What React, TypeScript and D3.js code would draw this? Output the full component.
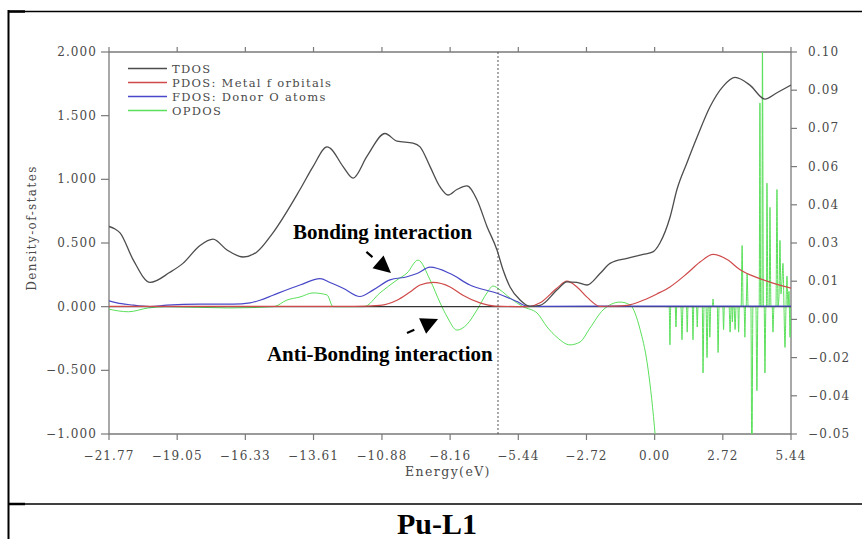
import React from "react";
import * as d3 from "d3";

// ---------- DATA ----------
const xTicks = [-21.77, -19.05, -16.33, -13.61, -10.88, -8.16, -5.44, -2.72, 0.0, 2.72, 5.44];
const xTickLabels = ["−21.77", "−19.05", "−16.33", "−13.61", "−10.88", "−8.16", "−5.44", "−2.72", "0.00", "2.72", "5.44"];
const yLeftTicks = [2, 1.5, 1, 0.5, 0, -0.5, -1];
const yLeftLabels = ["2.000", "1.500", "1.000", "0.500", "0.000", "−0.500", "−1.000"];
const yRightTicks = [0.1, 0.085, 0.07, 0.055, 0.04, 0.025, 0.01, -0.005, -0.02, -0.035, -0.05];
const yRightLabels = ["0.10", "0.09", "0.07", "0.06", "0.04", "0.03", "0.01", "0.00", "−0.02", "−0.04", "−0.05"];
const fermiLevel = -6.25;

const legendNames = ["TDOS", "PDOS: Metal f orbitals", "FDOS: Donor O atoms", "OPDOS"];

const tdos: [number, number][] = [
  [-21.77, 0.63], [-21.53, 0.61], [-21.33, 0.58], [-20.81, 0.37], [-20.13, 0.19], [-19.34, 0.27],
  [-18.82, 0.34], [-18.14, 0.48], [-17.62, 0.53], [-17.06, 0.445], [-16.42, 0.39], [-15.87, 0.43],
  [-15.23, 0.58], [-14.15, 0.92], [-13.63, 1.1], [-13.07, 1.255], [-12.95, 1.245], [-12.43, 1.1],
  [-12.03, 1.01], [-11.48, 1.18], [-10.76, 1.36], [-10.28, 1.3], [-9.64, 1.285], [-9.36, 1.255],
  [-8.96, 1.1], [-8.56, 0.94], [-8.24, 0.877], [-7.89, 0.92], [-7.49, 0.948], [-7.09, 0.84],
  [-6.69, 0.63], [-6.29, 0.445], [-6.05, 0.29], [-5.77, 0.155], [-5.37, 0.053], [-4.97, 0.003],
  [-4.57, 0.01], [-3.9, 0.13], [-3.5, 0.195], [-3.1, 0.19], [-2.7, 0.17], [-2.18, 0.26],
  [-1.78, 0.34], [-1.1, 0.38], [-0.46, 0.41], [-0.07, 0.43], [0.21, 0.5], [0.61, 0.7],
  [0.89, 0.92], [1.29, 1.13], [1.69, 1.33], [2.21, 1.57], [2.73, 1.73], [3.21, 1.8],
  [3.8, 1.74], [4.4, 1.63], [4.88, 1.68], [5.44, 1.74],
];

const pdosMetal: [number, number][] = [
  [-21.77, 0.002], [-18, 0.002], [-14, 0.002], [-12, 0.003], [-10.96, 0.01], [-10.28, 0.05],
  [-9.76, 0.115], [-9.36, 0.17], [-8.84, 0.19], [-8.16, 0.155], [-7.65, 0.09], [-6.97, 0.03],
  [-6.37, 0.005], [-5.2, 0.0], [-4.97, 0.002], [-4.57, 0.03], [-3.9, 0.145], [-3.5, 0.2],
  [-3.1, 0.155], [-2.7, 0.075], [-2.18, 0.003], [-1.6, 0.004], [-1.1, 0.01], [-0.46, 0.05],
  [0.09, 0.1], [0.61, 0.155], [1.29, 0.26], [1.81, 0.35], [2.33, 0.41], [2.89, 0.37],
  [3.41, 0.29], [4.2, 0.22], [4.72, 0.185], [5.44, 0.145],
];

const pdosDonor: [number, number][] = [
  [-21.77, 0.045], [-21.45, 0.03], [-20.93, 0.015], [-20.13, 0.0], [-19.46, 0.012], [-18.14, 0.02],
  [-16.82, 0.02], [-16.14, 0.03], [-15.75, 0.05], [-15.23, 0.09], [-14.15, 0.17], [-13.35, 0.22],
  [-12.95, 0.19], [-12.43, 0.145], [-11.76, 0.08], [-11.24, 0.13], [-10.56, 0.21], [-9.88, 0.235],
  [-9.48, 0.26], [-8.96, 0.31], [-8.16, 0.26], [-7.37, 0.17], [-6.29, 0.105], [-5.49, 0.04],
  [-5.09, 0.005], [-4.5, 0.003], [0, 0.004], [5.44, 0.004],
];

const opdos: [number, number | null][] = [
  [-21.77, -0.001], [-21.0, -0.002], [-20.2, -0.0005], [-19.5, 0.0], [-17, -0.0005], [-15.2, 0.0],
  [-14.67, 0.0026], [-14.15, 0.0038], [-13.63, 0.0054], [-13.07, 0.0046], [-12.83, 0.0], [-11.6, 0.0],
  [-10.96, 0.0054], [-10.28, 0.0105], [-9.88, 0.0132], [-9.44, 0.0183], [-8.96, 0.0105], [-8.56, 0.0015],
  [-8.28, -0.004], [-7.89, -0.0092], [-7.49, -0.007], [-7.09, -0.0013], [-6.69, 0.0054], [-6.45, 0.0081],
  [-6.17, 0.0066], [-5.77, 0.0034], [-5.25, 0.0], [-4.69, -0.0025], [-4.29, -0.008], [-3.9, -0.012],
  [-3.38, -0.015], [-2.98, -0.0139], [-2.58, -0.0084], [-2.06, -0.0013], [-1.38, 0.0018], [-0.98, 0.0007],
  [-0.58, -0.009], [-0.3, -0.022], [-0.01, -0.047], [0.21, -0.075], [0.3, null],
  [0.45, 0], [0.58, 0], [0.61, -0.015], [0.64, 0], [0.82, 0], [0.85, -0.008], [0.88, 0],
  [1.05, 0], [1.09, -0.013], [1.13, 0], [1.27, 0], [1.3, -0.01], [1.33, 0],
  [1.5, 0], [1.53, -0.013], [1.56, 0], [1.67, 0], [1.7, -0.008], [1.73, 0],
  [1.9, 0], [1.93, -0.026], [1.97, 0], [2.05, 0], [2.09, -0.02], [2.13, 0],
  [2.17, 0], [2.2, -0.012], [2.24, 0], [2.3, 0], [2.33, 0.003], [2.36, 0],
  [2.5, 0], [2.53, -0.018], [2.57, 0], [2.72, 0], [2.75, -0.009], [2.78, 0],
  [2.97, 0], [3.01, -0.01], [3.05, 0], [3.08, 0], [3.1, -0.006], [3.13, 0],
  [3.17, 0], [3.21, -0.009], [3.25, 0], [3.32, 0], [3.35, -0.01], [3.38, 0],
  [3.45, 0], [3.49, 0.024], [3.53, 0], [3.57, 0], [3.6, -0.012], [3.63, 0],
  [3.65, 0], [3.69, 0.013], [3.73, 0], [3.84, 0], [3.88, -0.07], [3.92, 0],
  [4.04, 0], [4.08, -0.033], [4.12, 0], [4.17, 0], [4.2, 0.08], [4.23, 0],
  [4.28, 0], [4.3, 0.105], [4.34, 0], [4.37, 0], [4.4, -0.026], [4.44, 0],
  [4.46, 0], [4.48, 0.0485], [4.52, 0], [4.57, 0], [4.6, 0.039], [4.64, 0],
  [4.69, 0], [4.72, -0.01], [4.76, 0], [4.84, 0], [4.88, 0.046], [4.92, 0],
  [4.96, 0.004], [5.0, 0.026], [5.04, 0.005], [5.08, 0.01], [5.12, 0.017], [5.16, 0],
  [5.2, -0.016], [5.24, 0], [5.28, 0.012], [5.32, 0], [5.36, 0.006], [5.4, -0.012], [5.44, 0],
];

// ---------- LAYOUT ----------
const W = 862;
const H = 539;
const left = 109, right = 791, top = 52, bottom = 434;
const axisColor = "#7a7a7a";
const textColor = "#4a4a4a";
const plotFont = "'DejaVu Serif', 'Liberation Serif', serif";
const serifFont = "'Liberation Serif', 'Times New Roman', serif";

const x = d3.scaleLinear().domain([-21.77, 5.44]).range([left, right]);
const yL = d3.scaleLinear().domain([-1, 2]).range([bottom, top]);
const yR = d3.scaleLinear().domain([-0.05, 0.1]).range([bottom, top]);

const lineL = d3.line<[number, number]>().x(d => x(d[0])).y(d => yL(d[1])).curve(d3.curveMonotoneX);
const lineR = d3
  .line<[number, number | null]>()
  .defined(d => d[1] !== null)
  .x(d => x(d[0]))
  .y(d => yR(d[1] as number))
  .curve(d3.curveMonotoneX);

const colors = ["#4d4d4d", "#cf4a4a", "#4848c8", "#5ae05a"];

function Arrow({ x1, y1, x2, y2 }: { x1: number; y1: number; x2: number; y2: number }) {
  const dx = x2 - x1, dy = y2 - y1;
  const len = Math.hypot(dx, dy);
  const ux = dx / len, uy = dy / len;
  const headL = 17, headW = 8.5;
  const bx = x2 - ux * headL, by = y2 - uy * headL;
  const p1 = [bx - uy * headW, by + ux * headW];
  const p2 = [bx + uy * headW, by - ux * headW];
  const dashEnd = [x1 + ux * 8, y1 + uy * 8];
  return (
    <g>
      <line x1={x1} y1={y1} x2={dashEnd[0]} y2={dashEnd[1]} stroke="#000" strokeWidth={2.2} />
      <polygon points={`${x2},${y2} ${p1[0]},${p1[1]} ${p2[0]},${p2[1]}`} fill="#000" />
    </g>
  );
}

export default function App() {
  const legendY = [68.5, 82.5, 96.5, 110.5];
  const tickText = { fontFamily: plotFont, fontSize: 12, fill: textColor, letterSpacing: 1.1 } as const;
  return (
    <svg
      width={W}
      height={H}
      viewBox={`0 0 ${W} ${H}`}
      style={{ position: "absolute", left: 0, top: 0, background: "#fff" }}
    >
      <defs>
        <clipPath id="plotClip">
          <rect x={left} y={top} width={right - left} height={bottom - top} />
        </clipPath>
      </defs>
      <rect x={0} y={0} width={W} height={H} fill="#fff" />

      {/* table borders */}
      <line x1={8.5} y1={10} x2={8.5} y2={H} stroke="#000" strokeWidth={2} />
      <line x1={8} y1={11.5} x2={W} y2={11.5} stroke="#000" strokeWidth={1.3} />
      <line x1={8} y1={11.5} x2={25} y2={11.5} stroke="#000" strokeWidth={2.5} />
      <line x1={8} y1={504} x2={W} y2={504} stroke="#000" strokeWidth={1.3} />
      <line x1={8} y1={504} x2={25} y2={504} stroke="#000" strokeWidth={2.5} />

      {/* axes frame */}
      <line x1={left} y1={top} x2={right} y2={top} stroke={axisColor} strokeWidth={1.3} />
      <line x1={left} y1={bottom} x2={right} y2={bottom} stroke={axisColor} strokeWidth={1.3} />
      <line x1={left} y1={top} x2={left} y2={bottom} stroke={axisColor} strokeWidth={1.3} />
      <line x1={right} y1={top} x2={right} y2={bottom} stroke={axisColor} strokeWidth={1.3} />

      {/* x ticks */}
      {xTicks.map((t, i) => (
        <g key={"xt" + i}>
          <line x1={x(t)} x2={x(t)} y1={top} y2={top - 5} stroke={axisColor} strokeWidth={1.2} />
          <line x1={x(t)} x2={x(t)} y1={bottom} y2={bottom + 6} stroke={axisColor} strokeWidth={1.2} />
          <text x={x(t)} y={460} textAnchor="middle" {...tickText}>
            {xTickLabels[i]}
          </text>
        </g>
      ))}

      {/* left y ticks */}
      {yLeftTicks.map((t, i) => (
        <g key={"yl" + i}>
          <line x1={left - 8} x2={left} y1={yL(t)} y2={yL(t)} stroke={axisColor} strokeWidth={1.2} />
          <text x={97} y={yL(t) + 4} textAnchor="end" {...tickText}>
            {yLeftLabels[i]}
          </text>
        </g>
      ))}

      {/* right y ticks */}
      {yRightTicks.map((t, i) => (
        <g key={"yr" + i}>
          <line x1={right} x2={right + 6} y1={yR(t)} y2={yR(t)} stroke={axisColor} strokeWidth={1.2} />
          <text x={808} y={yR(t) + 4} textAnchor="start" {...tickText}>
            {yRightLabels[i]}
          </text>
        </g>
      ))}

      {/* axis titles */}
      <text transform={`translate(36, ${228}) rotate(-90)`} textAnchor="middle" {...tickText} letterSpacing={1.4}>
        Density-of-states
      </text>
      <text x={448} y={476} textAnchor="middle" {...tickText} fontSize={12.5} letterSpacing={1.4}>
        Energy(eV)
      </text>

      {/* series */}
      <g clipPath="url(#plotClip)">
        <path d={lineR(opdos) || ""} fill="none" stroke={colors[3]} strokeWidth={1} />
        <line x1={left} x2={right} y1={yL(0)} y2={yL(0)} stroke="#333" strokeWidth={1.4} />
        <path d={lineL(pdosDonor) || ""} fill="none" stroke={colors[2]} strokeWidth={1.2} />
        <path d={lineL(pdosMetal) || ""} fill="none" stroke={colors[1]} strokeWidth={1.2} />
        <path d={lineL(tdos) || ""} fill="none" stroke={colors[0]} strokeWidth={1.3} />
      </g>

      {/* Fermi level */}
      <line
        x1={x(fermiLevel)}
        x2={x(fermiLevel)}
        y1={top}
        y2={bottom}
        stroke="#555"
        strokeWidth={1}
        strokeDasharray="2,2"
      />

      {/* legend */}
      {legendNames.map((n, i) => (
        <g key={"lg" + i}>
          <line x1={128} x2={167} y1={legendY[i]} y2={legendY[i]} stroke={colors[i]} strokeWidth={1.3} />
          <text x={172} y={legendY[i] + 4} {...tickText} fontSize={11.5} letterSpacing={1.3}>
            {n}
          </text>
        </g>
      ))}

      {/* annotations */}
      <text x={x(-14.43)} y={yL(0.53)} fontFamily={serifFont} fontWeight="bold" fontSize={21} fill="#000">
        Bonding interaction
      </text>
      <Arrow x1={x(-11.5)} y1={yL(0.43)} x2={x(-10.52)} y2={yL(0.265)} />
      <text x={x(-15.47)} y={yL(-0.43)} fontFamily={serifFont} fontWeight="bold" fontSize={21} fill="#000">
        Anti-Bonding interaction
      </text>
      <Arrow x1={x(-9.88)} y1={yL(-0.207)} x2={x(-8.64)} y2={yL(-0.097)} />

      {/* caption */}
      <text x={437} y={534} textAnchor="middle" fontFamily={serifFont} fontWeight="bold" fontSize={30} fill="#000">
        Pu-L1
      </text>
    </svg>
  );
}
